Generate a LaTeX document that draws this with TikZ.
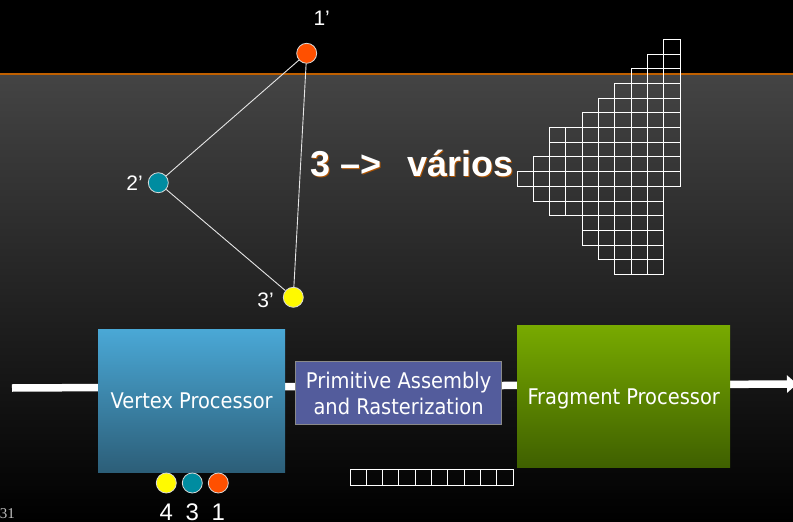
\documentclass[tikz,border=0pt]{standalone}
\usepackage{fontspec}
\setmainfont{Liberation Sans}
\newfontfamily\boxfont{DejaVu Sans Condensed}
\newfontfamily\pagefont{Liberation Serif}
\usetikzlibrary{arrows.meta,positioning}
\definecolor{bandorange}{RGB}{192,96,0}
\definecolor{bgtop}{RGB}{68,68,68}
\definecolor{bgmid}{RGB}{44,44,44}
\definecolor{vtxred}{RGB}{255,80,0}
\definecolor{vtxteal}{RGB}{0,140,160}
\definecolor{vtxyellow}{RGB}{255,250,0}
\definecolor{vptop}{RGB}{74,168,214}
\definecolor{vpbottom}{RGB}{44,94,120}
\definecolor{pafill}{RGB}{83,92,156}
\definecolor{paedge}{RGB}{138,138,138}
\definecolor{fptop}{RGB}{120,170,0}
\definecolor{fpbottom}{RGB}{63,96,0}
\definecolor{shadoworange}{RGB}{176,84,0}

\begin{document}
\begin{tikzpicture}[
      x=1pt, y=-1pt,
      vertex/.style={circle, draw=white!85!black, line width=0.8pt,
        minimum size=20pt, inner sep=0pt},
      lbl/.style={text=white, inner sep=0pt, font=\fontsize{21}{24}\selectfont},
      digit/.style={text=white, inner sep=0pt, font=\fontsize{24}{26}\selectfont},
      wire/.style={white!90!black, line width=0.9pt},
      cell/.style={draw=white, line width=1pt},
      stage/.style={text=white, align=center, inner sep=0pt, anchor=north west,
        font=\boxfont\fontsize{21.6}{26}\selectfont},
      pipe/.style={white, line width=7.5pt, -{Triangle[length=10pt,width=17pt]}},
      headline/.style={inner sep=0pt, anchor=base west,
        font=\bfseries\fontsize{36}{40}\selectfont}
    ]
    \useasboundingbox (0,0) rectangle (793,522);
    \clip (0,0) rectangle (793,522);
    \fill[black] (0,0) rectangle (793,74);
    \shade[top color=bgtop, middle color=bgmid, bottom color=black] (0,74) rectangle (793,522);
    \draw[bandorange, line width=1.2pt] (0,74) -- (793,74);

    % rasterized triangle
    \foreach \r/\a/\b in {0/9/9, 1/8/9, 2/7/9, 3/6/9, 4/5/9, 5/4/9, 6/2/9, 7/2/9,
        8/1/9, 9/0/9, 10/1/8, 11/2/8, 12/4/8, 13/4/8, 14/5/8, 15/6/8}
      \foreach \c in {\a,...,\b}
        \draw[cell] (517+16.3*\c, 39.3+14.7*\r) rectangle ++(16.3,14.7);

    \node[vertex, fill=vtxred] (v1) at (306.7,53.3) {};
    \node[vertex, fill=vtxteal] (v2) at (158.3,182.7) {};
    \node[vertex, fill=vtxyellow] (v3) at (293.3,297.3) {};
    \node[lbl] (l1) at (321.7,18.3) {1’};
    \node[lbl, left=5pt of v2] (l2) {2’};
    \node[lbl, left=9pt of v3, yshift=-3pt] (l3) {3’};
    \draw[wire] (v1) -- (v2);
    \draw[wire] (v2) -- (v3);
    \draw[wire] (v1) -- (v3);

    \node[headline, text=shadoworange] (headshadow) at (311.5,177.5) {3 –>\hspace{0.72em}vários};
    \node[headline, text=white] (head) at (310,176) {3 –>\hspace{0.72em}vários};

    % pipeline
    \coordinate (in) at (12,388);
    \coordinate (out) at (797,384);
    \draw[pipe] (in) -- (out);
    \node[stage, minimum width=187pt, minimum height=143pt,
      top color=vptop, bottom color=vpbottom] (vp) at (98,329) {Vertex Processor};
    \node[stage, minimum width=206pt, minimum height=63pt, fill=pafill,
      draw=paedge, line width=1.2pt] (pa) at (295,361) {Primitive Assembly\\and Rasterization};
    \node[stage, minimum width=213pt, minimum height=142pt, text depth=0pt,
      top color=fptop, bottom color=fpbottom] (fp) at (517,325) {Fragment Processor};

    \foreach \c in {0,...,9}
      \draw[cell] (350+16.3*\c, 469) rectangle ++(16.3,16);

    \node[vertex, fill=vtxyellow] (q4) at (166.3,483) {};
    \node[vertex, fill=vtxteal] (q3) at (192.3,483) {};
    \node[vertex, fill=vtxred] (q1) at (218.3,483) {};
    \node[digit, below=10pt of q4] (n4) {4};
    \node[digit, below=10pt of q3] (n3) {3};
    \node[digit, below=10pt of q1] (n1) {1};

    \node[inner sep=0pt, anchor=base east, text=white!75!black,
      font=\pagefont\fontsize{15}{17}\selectfont] (pageno) at (15,518) {31};
  \end{tikzpicture}
\end{document}
